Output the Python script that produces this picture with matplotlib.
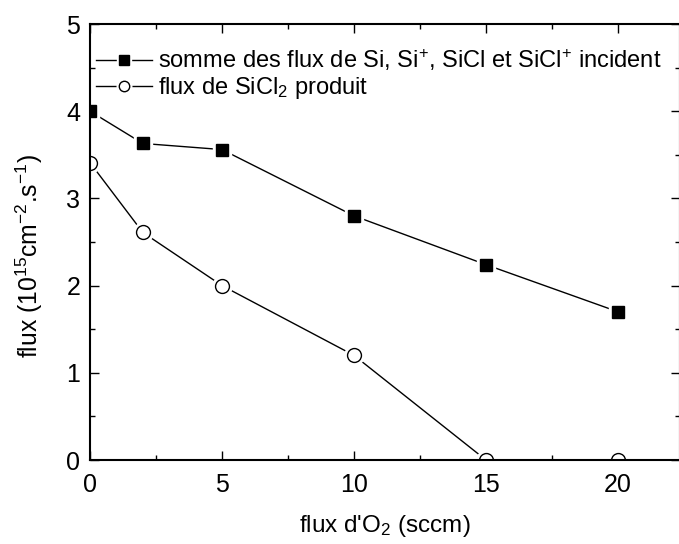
import matplotlib
matplotlib.use("Agg")
import matplotlib.pyplot as plt
from matplotlib.ticker import MultipleLocator
from matplotlib.legend_handler import HandlerTuple

plt.rcParams['font.family'] = ['Liberation Sans', 'DejaVu Sans']
plt.rcParams['mathtext.fontset'] = 'custom'
plt.rcParams['mathtext.rm'] = 'Liberation Sans'
plt.rcParams['mathtext.it'] = 'Liberation Sans:italic'
plt.rcParams['mathtext.default'] = 'regular'

# O2 flow (sccm)
o2_flow = [0, 2, 5, 10, 15, 20]
# total incident flux of Si, Si+, SiCl, SiCl+ (1e15 cm^-2 s^-1)
incident_flux = [4.0, 3.63, 3.56, 2.80, 2.24, 1.70]
# produced SiCl2 flux (1e15 cm^-2 s^-1)
sicl2_flux = [3.41, 2.61, 2.0, 1.20, 0.0, 0.0]

label_incident = "somme des flux de Si, Si$^{+}$, SiCl et SiCl$^{+}$ incident"
label_sicl2 = "flux de SiCl$_{2}$ produit"

W, H = 679, 544
fig = plt.figure(figsize=(W / 100, H / 100), dpi=100)
ax = fig.add_axes([90 / W, 1 - 460 / H, 590 / W, 436 / H])


def series(x, y, marker, ms, face):
    # connecting line, a white halo that opens a gap round each marker,
    # then the marker itself; all clipped to the plotting area
    line, = ax.plot(x, y, color='black', lw=1.0, zorder=2)
    halo, = ax.plot(x, y, ls='none', marker=marker, ms=ms + 4,
                    mfc='white', mec='white', zorder=2.1)
    pts, = ax.plot(x, y, ls='none', marker=marker, ms=ms,
                   mfc=face, mec='black', mew=1.0, zorder=2.2)
    for art in (line, halo, pts):
        art.set_clip_path(ax.patch)
    return (line, halo, pts)


h1 = series(o2_flow, incident_flux, 's', 9, 'black')
h2 = series(o2_flow, sicl2_flux, 'o', 10, 'white')

ax.set_xlim(0, 22.35)
ax.set_ylim(0, 5)
ax.xaxis.set_major_locator(MultipleLocator(5))
ax.xaxis.set_minor_locator(MultipleLocator(2.5))
ax.yaxis.set_major_locator(MultipleLocator(1))
ax.yaxis.set_minor_locator(MultipleLocator(0.5))

for s in ax.spines.values():
    s.set_linewidth(1.5)
ax.tick_params(which='both', direction='in', top=True, right=True, width=1.0)
ax.tick_params(which='major', length=6.5, labelsize=18, pad=7)
ax.tick_params(which='minor', length=3.6)
ax.tick_params(axis='x', which='major', pad=9)

ax.set_xlabel("flux d'O$_{2}$ (sccm)", fontsize=17.5)
ax.xaxis.set_label_coords(0.5, -0.122)
ax.set_ylabel("flux (10$^{15}$cm$^{-2}$.s$^{-1}$)", fontsize=17.8)
ax.yaxis.set_label_coords(-0.076, 0.468)

ax.legend([h1, h2], [label_incident, label_sicl2],
          handler_map={tuple: HandlerTuple(ndivide=1)},
          loc='upper left', frameon=False, fontsize=17, markerscale=0.75,
          handlelength=2.37, handletextpad=0.25, borderpad=0.1,
          borderaxespad=0.15, labelspacing=0.1,
          bbox_to_anchor=(0.0, 0.961))

fig.savefig("out.png", dpi=100)
